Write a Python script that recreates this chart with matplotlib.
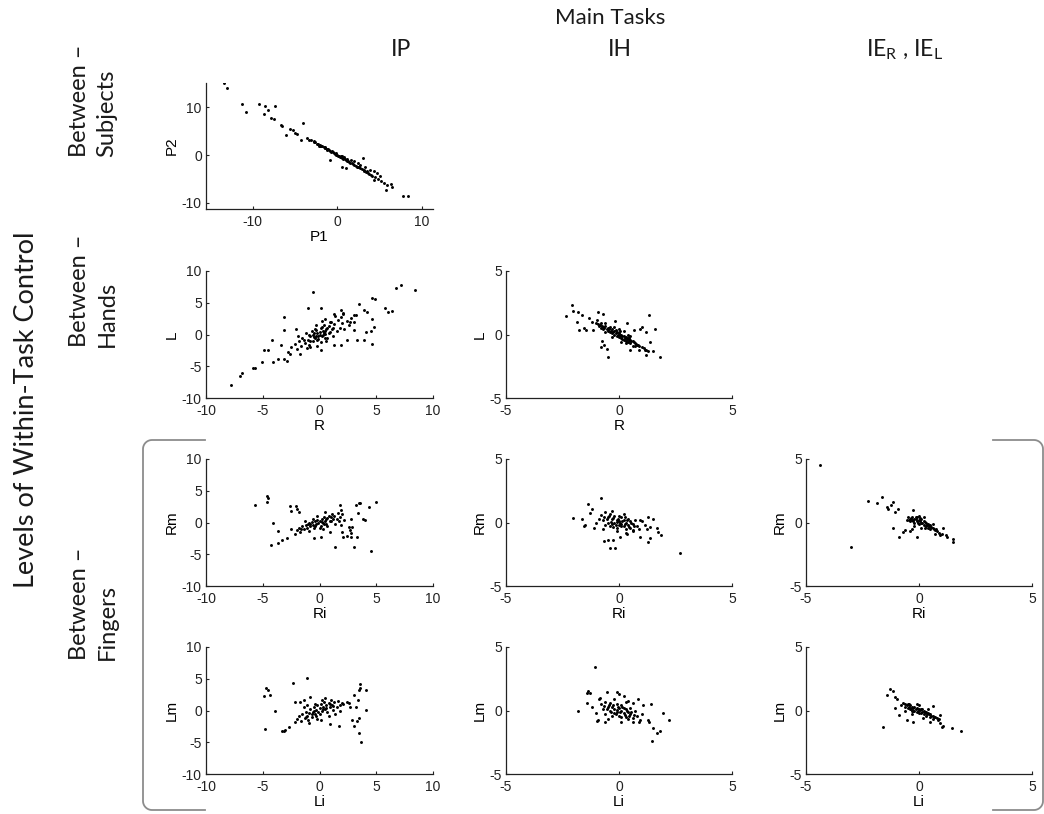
import numpy as np
import matplotlib
matplotlib.use("Agg")
import matplotlib.pyplot as plt
from matplotlib.lines import Line2D

W, H = 1044, 814

# ---- data (x, y) pairs, one list per panel ----
ip_subjects = [
    (-13.4, 15.0), (-13.0, 14.1), (-11.2, 10.6), (-10.8, 9.0), (-9.3, 10.6), (-8.5, 10.3),
    (-8.2, 9.4), (-8.7, 8.5), (-7.4, 10.3), (-7.8, 7.8), (-7.5, 7.6), (-6.6, 6.4), (-6.5, 6.0),
    (-6.0, 4.3), (-5.6, 5.5), (-5.2, 5.3), (-5.0, 4.6), (-4.7, 4.5), (-4.1, 6.7), (-4.3, 3.2),
    (-3.6, 3.6), (-3.3, 3.2), (-3.1, 3.2), (-2.7, 2.9), (-2.4, 2.4), (-1.8, 1.8), (-1.5, 1.5),
    (-1.2, 1.1), (-0.9, -1.0), (-0.6, 0.8), (-0.2, 0.4), (0.0, 0.1), (0.4, -0.3), (0.8, -0.4),
    (1.0, -2.7), (0.6, -2.5), (1.2, -0.8), (1.6, -1.0), (2.0, -1.3), (2.4, -1.7), (3.0, -0.6),
    (2.7, -2.0), (3.3, -2.4), (3.9, -3.1), (4.3, -3.4), (4.7, -3.8), (4.3, -5.2), (5.1, -4.3),
    (5.9, -6.2), (6.4, -6.0), (6.5, -6.6), (5.8, -7.3), (7.8, -8.5), (8.4, -8.5),
    (-2.8, 2.8), (-2.6, 2.7), (-2.3, 2.3), (-2.1, 2.1), (-1.9, 2.0), (-1.6, 1.6), (-1.4, 1.5),
    (-1.2, 1.2), (-1.0, 1.0), (-0.7, 0.7), (-0.5, 0.6), (-0.3, 0.2), (-0.1, 0.1), (0.2, -0.2),
    (0.4, -0.5), (0.6, -0.6), (0.9, -0.9), (1.1, -1.2), (1.3, -1.3), (1.5, -1.6), (1.8, -1.8),
    (2.0, -2.1), (2.2, -2.2), (2.5, -2.6), (2.7, -2.8), (2.9, -2.9), (3.1, -3.3), (3.4, -3.5),
    (3.6, -3.8), (3.8, -4.0), (4.1, -4.3), (4.5, -4.6), (4.8, -5.1), (5.2, -5.4), (5.5, -5.9),
    (-2.0, 1.9), (-0.9, 0.8), (0.3, -0.4), (1.4, -1.4), (2.6, -2.5), (3.2, -3.2), (0.7, -0.8),
    (-1.5, 1.6), (-0.4, 0.5), (0.1, -0.1), (0.5, -0.3), (1.0, -1.1), (1.7, -1.6), (2.3, -2.4),
    (3.5, -3.3), (4.0, -4.1), (-2.2, 2.0), (-1.1, 1.3),
]

ip_hands = [
    (-7.8, -7.9), (-7.0, -6.5), (-6.8, -6.1), (-5.9, -5.2), (-5.7, -5.2), (-5.1, -4.3),
    (-4.9, -2.5), (-4.5, -2.5), (-4.2, -0.8), (-4.1, -4.3), (-3.7, -3.8), (-3.1, 2.8),
    (-3.1, 0.7), (-3.4, -1.7), (-2.6, -3.0), (-2.1, 0.8), (-1.0, 4.1), (-0.6, 6.7), (0.1, 4.1),
    (0.5, 2.5), (1.3, 3.3), (1.9, 3.9), (2.1, 3.3), (3.5, 4.8), (3.0, 3.1), (2.7, 2.0),
    (3.0, 0.7), (3.3, -0.9), (3.9, 3.9), (4.2, 3.6), (4.6, 5.8), (4.9, 5.6), (4.6, 2.5),
    (4.8, 1.2), (4.5, 0.5), (4.1, 0.4), (3.9, -0.9), (4.6, -1.5), (5.8, 4.2), (6.0, 3.5),
    (6.4, 3.7), (6.7, 7.4), (7.2, 7.8), (8.4, 7.0), (1.9, -1.6), (1.3, -1.7), (2.4, -0.9),
    (0.1, -2.4), (-0.8, -2.0), (-1.7, -3.0), (-2.9, -4.1), (-3.1, -3.8),
    (-2.5, -2.0), (-2.2, -1.5), (-2.0, -2.3), (-1.8, -1.0), (-1.6, -1.8), (-1.5, -0.5),
    (-1.3, -1.3), (-1.2, 0.2), (-1.0, -0.8), (-0.9, -1.6), (-0.8, -0.3), (-0.7, 0.5),
    (-0.6, -1.1), (-0.5, -0.4), (-0.4, 0.8), (-0.3, -0.2), (-0.2, 0.3), (-0.1, -0.7),
    (0.0, 0.4), (0.1, 1.0), (0.2, -0.3), (0.3, 0.6), (0.4, 1.5), (0.5, 0.1), (0.6, 0.9),
    (0.7, -0.5), (0.8, 1.3), (0.9, 0.4), (1.0, 2.0), (1.1, 0.8), (1.2, -0.2), (1.3, 1.6),
    (1.5, 0.6), (1.6, 2.3), (1.8, 1.1), (2.0, 1.8), (2.2, 0.9), (2.4, 2.2), (2.6, 1.5),
    (2.8, 2.6), (3.0, 1.9), (3.2, 3.0), (-0.3, 1.5), (0.2, 2.1), (-0.6, 0.0), (0.1, -1.2),
    (-1.1, -2.2), (-2.8, -2.8), (0.6, -1.0), (1.4, 2.9), (-1.9, -0.3), (2.1, 3.4),
    (-0.2, -1.8), (0.5, 0.5), (-0.4, -0.6), (0.0, 0.0), (0.3, -0.1), (-0.8, -1.0), (0.9, 1.9),
    (1.9, 2.8), (-0.5, 0.2), (-0.3, 0.7), (0.2, 1.2), (0.4, 0.3), (0.7, 1.1), (-0.9, 0.0),
    (-0.1, -0.3), (0.5, -0.6), (1.2, 1.0), (-1.4, -0.9), (-0.2, -0.9), (0.8, 0.2),
]

ih_hands = [
    (-2.34, 1.47), (-2.09, 2.36), (-2.04, 1.86), (-1.82, 1.78), (-1.87, 1.0), (-1.79, 0.34),
    (-1.65, 1.52), (-1.57, 0.55), (-1.46, 0.34), (-1.31, 1.26), (-1.21, 1.0), (-1.13, 0.34),
    (-0.91, 1.78), (-0.72, 1.65), (-0.99, 1.18), (-0.81, -0.97), (-0.76, -0.5), (-0.66, -0.79),
    (-0.54, -1.15), (-0.47, -1.78), (-0.18, 1.08), (0.34, 0.87), (0.66, 0.34), (0.93, 0.47),
    (1.0, 0.6), (1.18, 0.21), (1.34, 1.57), (1.37, -0.58), (1.59, 0.42), (1.51, -1.31),
    (1.18, -1.63), (1.81, -1.76), (1.15, -1.23), (0.49, -1.23),
    (-1.0, 0.9), (-0.9, 0.7), (-0.8, 0.9), (-0.7, 0.6), (-0.7, 0.4), (-0.6, 0.7), (-0.5, 0.5),
    (-0.5, 0.3), (-0.4, 0.6), (-0.4, 0.2), (-0.3, 0.4), (-0.3, 0.1), (-0.2, 0.3), (-0.2, 0.0),
    (-0.1, 0.2), (-0.1, -0.1), (0.0, 0.1), (0.0, -0.2), (0.1, 0.0), (0.1, -0.3), (0.2, -0.1),
    (0.2, -0.4), (0.3, -0.2), (0.3, -0.5), (0.4, -0.3), (0.4, -0.6), (0.5, -0.4), (0.5, -0.7),
    (0.6, -0.5), (0.7, -0.7), (0.7, -0.9), (0.8, -0.8), (0.9, -0.9), (1.0, -1.0), (1.1, -1.1),
    (1.2, -1.2), (1.3, -1.3), (-0.6, 0.2), (0.0, 0.4), (0.2, 0.3), (0.5, -0.1), (-0.3, -0.2),
    (0.6, -0.9), (0.9, -1.2), (-0.8, 0.5), (0.1, -0.6), (0.4, 0.0), (-0.2, 0.6),
    (-0.95, 0.8), (-0.85, 0.75), (-0.75, 0.7), (-0.65, 0.55), (-0.55, 0.45), (-0.45, 0.4),
    (-0.35, 0.3), (-0.25, 0.2), (-0.15, 0.15), (-0.05, 0.0), (0.05, -0.05), (0.15, -0.15),
    (0.25, -0.3), (0.35, -0.35), (0.45, -0.45), (0.55, -0.55), (0.65, -0.6), (0.75, -0.75),
    (0.85, -0.85), (-0.45, 0.55), (-0.15, 0.35), (0.15, -0.35), (0.45, -0.25), (-0.6, 0.9),
    (0.3, -0.7), (0.05, 0.25),
]

ip_fingers_r = [
    (-5.7, 2.7), (-4.6, 4.2), (-4.5, 3.8), (-4.6, 3.3), (-4.1, 0.0), (-4.3, -3.6), (-3.7, -1.3),
    (-3.7, -3.3), (-3.3, -2.7), (-2.9, -2.4), (-2.6, 2.6), (-2.5, 1.8), (-2.1, 2.6), (-2.0, 2.1),
    (-1.8, 1.7), (-0.5, -2.5), (0.1, -2.3), (0.9, -1.5), (1.4, -3.8), (1.8, 2.7), (2.0, -1.5),
    (2.1, -2.3), (2.4, -2.2), (2.7, -1.2), (2.8, 0.6), (2.9, -0.7), (2.8, -2.3), (3.0, -3.9),
    (3.2, 2.7), (3.5, 3.0), (3.6, 3.0), (3.4, 1.5), (3.3, -2.3), (3.8, 0.5), (4.0, 0.4),
    (4.4, 2.5), (4.5, -4.5), (5.0, 3.3), (2.6, -0.7), (2.8, -1.7), (1.9, -0.4),
    (-2.2, -1.8), (-2.0, -1.2), (-1.8, -0.8), (-1.7, -1.5), (-1.5, -0.6), (-1.4, -1.1),
    (-1.2, -0.4), (-1.1, -0.9), (-1.0, -0.2), (-0.9, -1.3), (-0.8, -0.6), (-0.7, 0.1),
    (-0.6, -0.4), (-0.5, -0.9), (-0.4, 0.2), (-0.3, -0.3), (-0.2, 0.4), (-0.1, -0.1),
    (0.0, 0.3), (0.1, -0.5), (0.2, 0.6), (0.3, 0.0), (0.4, 0.9), (0.5, 0.3), (0.6, -0.2),
    (0.7, 0.7), (0.8, 1.1), (0.9, 0.2), (1.0, 0.8), (1.1, 1.4), (1.2, 0.5), (1.3, 1.0),
    (1.5, 0.6), (1.6, 1.5), (1.8, 0.9), (2.0, 1.3), (2.2, 0.4), (-0.2, 1.0), (0.3, -1.0),
    (-1.3, 0.2), (0.7, -0.6), (1.4, -0.3), (-0.6, 0.6), (0.0, -0.8), (0.5, 1.6), (-0.9, -0.1),
    (1.9, 2.0), (-2.5, -1.0), (-0.4, -0.5), (0.2, 0.1), (0.6, 0.5), (-0.8, -0.2), (1.0, 0.3),
    (-1.6, -1.0), (0.4, -0.3), (1.7, 0.2),
]

ih_fingers_r = [
    (-2.04, 0.37), (-1.62, 0.24), (-1.57, -0.26), (-1.5, -0.16), (-1.38, 1.45), (-1.28, 0.71),
    (-1.21, 1.1), (-1.1, -0.42), (-0.81, 1.89), (-0.66, -1.45), (-0.47, -1.34), (-0.40, -1.97),
    (-0.25, -1.39), (-0.18, -1.97), (0.04, -1.13), (0.34, -0.87), (0.60, -0.66), (0.93, -1.13),
    (1.15, -0.21), (1.22, -0.55), (1.29, 0.45), (1.37, -1.21), (1.29, -1.53), (1.37, -0.34),
    (1.51, 0.24), (1.66, -0.47), (1.74, -0.74), (1.88, -1.0), (2.72, -2.37), (0.93, 0.18),
    (-0.8, 0.6), (-0.7, 0.2), (-0.6, 0.8), (-0.6, -0.2), (-0.5, 0.4), (-0.5, 0.0), (-0.4, 0.7),
    (-0.4, -0.3), (-0.3, 0.3), (-0.3, -0.1), (-0.2, 0.5), (-0.2, 0.0), (-0.1, 0.2), (-0.1, -0.4),
    (0.0, 0.1), (0.0, -0.2), (0.1, 0.4), (0.1, -0.1), (0.2, 0.2), (0.2, -0.3), (0.3, 0.0),
    (0.3, -0.5), (0.4, 0.3), (0.4, -0.2), (0.5, -0.4), (0.5, 0.1), (0.6, -0.1), (0.6, -0.6),
    (0.7, 0.2), (0.8, -0.3), (-0.9, 0.3), (-0.3, 0.9), (0.2, 0.7), (0.9, -0.5), (-0.7, -0.5),
    (0.3, -0.8), (1.0, 0.1), (-1.0, 0.0), (0.0, 0.5), (-0.1, -0.7),
    (-0.55, 0.25), (-0.45, 0.55), (-0.35, 0.05), (-0.25, 0.35), (-0.15, -0.2), (-0.05, 0.3),
    (0.05, -0.05), (0.15, 0.15), (0.25, -0.1), (0.35, 0.2), (0.45, -0.35), (0.55, 0.0),
    (-0.25, -0.35), (0.25, 0.45), (-0.65, 0.45), (0.65, -0.3), (-0.1, 0.05), (0.1, -0.25),
]

ie_fingers_r = [
    (-4.38, 4.53), (-3.02, -1.92), (-2.24, 1.71), (-1.84, 1.5), (-1.65, 1.97), (-1.43, 1.24),
    (-1.36, 1.03), (-1.25, 1.37), (-1.14, 1.63), (-1.06, 0.84), (-1.14, -0.42), (-0.91, 1.1),
    (-0.87, -1.13), (-0.72, -0.74), (-0.55, 0.18), (-0.28, 0.97), (-0.10, -1.13), (1.08, -0.42),
    (0.71, -0.87), (1.49, -1.26), (1.52, -1.53), (1.22, -1.13), (0.93, -1.0),
    (-0.5, 0.4), (-0.4, 0.3), (-0.4, 0.1), (-0.3, 0.4), (-0.3, 0.2), (-0.2, 0.3), (-0.2, 0.0),
    (-0.1, 0.4), (-0.1, 0.1), (0.0, 0.2), (0.0, -0.1), (0.1, 0.3), (0.1, 0.0), (0.2, 0.1),
    (0.2, -0.2), (0.3, 0.0), (0.3, -0.3), (0.4, -0.1), (0.4, -0.4), (0.5, -0.2), (0.5, -0.5),
    (0.6, -0.4), (0.7, -0.6), (0.8, -0.7), (0.9, -0.8), (1.0, -0.9), (1.2, -1.0), (-0.3, -0.5),
    (-0.4, -0.7), (0.0, 0.5), (0.2, 0.4), (-0.6, -0.6), (-0.2, -0.3), (0.6, -0.1), (0.1, -0.4),
    (-0.45, 0.2), (-0.35, 0.35), (-0.25, 0.1), (-0.15, 0.25), (-0.05, 0.0), (0.05, 0.15),
    (0.15, -0.05), (0.25, 0.05), (0.35, -0.2), (0.45, -0.25), (0.55, -0.35), (0.65, -0.5),
    (-0.15, 0.45), (0.05, 0.35), (0.25, -0.4), (0.75, -0.55),
]

ip_fingers_l = [
    (-4.8, -2.9), (-4.9, 2.35), (-4.7, 3.6), (-4.5, 3.2), (-4.4, 2.45), (-3.9, -0.15),
    (-3.3, -3.3), (-3.1, -3.2), (-3.0, -3.0), (-2.7, -2.6), (-2.35, 4.4), (-2.2, 1.4),
    (-1.7, 1.4), (-1.4, 1.7), (-1.1, 5.1), (-0.8, 2.1), (0.1, -1.5), (0.9, -2.1), (1.7, -2.4),
    (1.85, 0.0), (2.45, 1.4), (2.7, 0.5), (2.9, -1.5), (3.0, -2.5), (3.0, 2.45), (3.2, 0.5),
    (3.3, -1.6), (3.4, 1.7), (3.5, 3.2), (3.6, 3.5), (3.6, 4.1), (3.5, -3.55), (3.7, -5.0),
    (4.1, 0.1), (4.1, 3.2), (2.6, 1.2), (2.1, 1.0), (3.5, -1.2),
    (-2.2, -1.8), (-2.0, -1.3), (-1.8, -0.9), (-1.6, -1.6), (-1.5, -0.5), (-1.3, -1.2),
    (-1.2, -0.2), (-1.1, -0.8), (-1.0, -1.5), (-0.9, -0.4), (-0.8, 0.2), (-0.7, -1.0),
    (-0.6, -0.2), (-0.5, 0.5), (-0.4, -0.6), (-0.3, 0.1), (-0.2, 0.8), (-0.1, -0.3),
    (0.0, 0.4), (0.1, 1.1), (0.2, -0.1), (0.3, 0.6), (0.4, 1.4), (0.5, 0.2), (0.6, 0.9),
    (0.7, -0.3), (0.8, 1.2), (0.9, 0.5), (1.0, 1.7), (1.1, 0.8), (1.2, 0.1), (1.3, 1.3),
    (1.5, 0.6), (1.6, 1.5), (1.8, 0.9), (2.0, 1.2), (-0.9, -2.0), (0.2, 1.7), (-0.4, 1.0),
    (0.8, -0.8), (-1.4, 0.5), (1.4, -0.5), (-0.2, -1.3), (0.5, 1.9), (-1.1, 0.8), (0.0, -0.6),
    (-0.7, -0.6), (-0.3, -0.9), (0.3, 0.2), (0.6, 0.4), (-1.2, -1.0), (0.9, 1.0), (1.2, 0.7),
    (-0.5, -0.1),
]

ih_fingers_l = [
    (-1.82, 0.0), (-1.35, 1.55), (-1.4, 1.37), (-1.28, 1.37), (-1.06, 3.39), (-1.43, 0.58),
    (-1.21, 0.31), (-0.99, -0.81), (-0.91, -0.73), (-0.84, 0.97), (-0.54, 1.42), (-0.10, 1.42),
    (0.01, 1.31), (0.22, 1.15), (0.41, 0.71), (0.85, 0.89), (1.07, 0.45), (1.29, -0.73),
    (1.34, -0.94), (1.4, 0.52), (1.44, -2.44), (1.51, -1.39), (1.66, -1.78), (1.81, -1.65),
    (1.96, -0.21), (2.22, -0.73), (0.93, -0.73), (0.63, -0.87),
    (-0.8, 0.5), (-0.7, 0.1), (-0.6, 0.7), (-0.6, -0.3), (-0.5, 0.3), (-0.4, 0.0), (-0.4, 0.6),
    (-0.3, -0.4), (-0.3, 0.3), (-0.2, 0.1), (-0.2, -0.2), (-0.1, 0.5), (-0.1, -0.1), (0.0, 0.2),
    (0.0, -0.4), (0.1, 0.0), (0.1, 0.4), (0.2, -0.2), (0.2, 0.2), (0.3, -0.5), (0.3, 0.1),
    (0.4, -0.1), (0.4, -0.7), (0.5, 0.2), (0.5, -0.3), (0.6, -0.6), (0.7, 0.0), (0.8, -0.4),
    (-0.9, 0.9), (-0.5, -0.7), (0.1, -0.9), (0.6, 0.6), (-0.2, 0.9), (0.9, -0.9), (-1.0, -0.2),
    (0.3, 0.7), (-0.6, -0.9), (1.0, -0.3),
    (-0.55, 0.1), (-0.45, 0.45), (-0.35, -0.1), (-0.25, 0.4), (-0.15, -0.3), (-0.05, 0.3),
    (0.05, -0.15), (0.15, 0.25), (0.25, -0.35), (0.35, 0.0), (0.45, -0.45), (0.55, -0.1),
    (-0.65, 0.35), (0.65, -0.35), (-0.1, 0.05), (0.1, -0.55),
]

ie_fingers_l = [
    (-1.61, -1.31), (-1.43, 1.23), (-1.28, 1.68), (-1.14, 1.55), (-1.06, 1.05), (-0.99, 0.89),
    (-1.06, 0.18), (-0.87, -0.39), (-0.55, -0.73), (-0.28, -0.94), (0.19, -0.60), (0.49, -0.87),
    (0.63, 0.37), (0.86, -0.73), (0.93, -1.0), (1.0, -1.31), (1.05, -1.21), (1.45, -1.39),
    (1.84, -1.6), (0.93, -0.34),
    (-0.7, 0.6), (-0.6, 0.5), (-0.6, 0.3), (-0.5, 0.5), (-0.5, 0.2), (-0.4, 0.4), (-0.4, 0.1),
    (-0.3, 0.3), (-0.3, 0.0), (-0.2, 0.3), (-0.2, 0.0), (-0.1, 0.2), (-0.1, -0.1), (0.0, 0.1),
    (0.0, -0.2), (0.1, 0.1), (0.1, -0.2), (0.2, 0.0), (0.2, -0.3), (0.3, -0.1), (0.3, -0.4),
    (0.4, -0.2), (0.5, -0.3), (0.5, -0.5), (0.6, -0.4), (0.7, -0.5), (0.8, -0.6), (-0.8, 0.4),
    (-0.3, -0.3), (0.0, 0.4), (0.4, 0.1), (-0.6, 0.0), (0.6, -0.7), (0.9, -0.7), (-0.1, 0.5),
    (-0.55, 0.4), (-0.45, 0.3), (-0.35, 0.15), (-0.25, 0.2), (-0.15, 0.1), (-0.05, 0.0),
    (0.05, 0.05), (0.15, -0.1), (0.25, -0.15), (0.35, -0.25), (0.45, -0.3), (0.55, -0.4),
    (-0.45, 0.55), (0.15, 0.15), (0.65, -0.55), (-0.25, -0.05),
]

col_titles = ["IP", "IH", r"IE$_\mathregular{R}$ , IE$_\mathregular{L}$"]
row_titles = ["Between \u2013\nSubjects", "Between \u2013\nHands", "Between \u2013\nFingers"]

plt.rcParams["font.family"] = ["Liberation Sans", "DejaVu Sans"]
plt.rcParams["mathtext.fontset"] = "custom"
plt.rcParams["mathtext.rm"] = "Lato"
plt.rcParams["axes.unicode_minus"] = False

fig = plt.figure(figsize=(W / 100, H / 100), dpi=100)


def px_axes(left, top, right, bottom):
    return fig.add_axes([left / W, 1 - bottom / H, (right - left) / W, (bottom - top) / H])


col_x = [(206, 433), (506, 732), (806, 1032)]
row_y = [(83, 209), (271, 398), (459, 586), (647, 774)]

panels = [
    # row, col, points, xlabel, ylabel, xlim, ylim, ticks
    (0, 0, ip_subjects, "P1", "P2", (-15.5, 11.3), (-11.3, 15.1), [-10, 0, 10]),
    (1, 0, ip_hands, "R", "L", (-10, 10), (-10, 10), [-10, -5, 0, 5, 10]),
    (1, 1, ih_hands, "R", "L", (-5, 5), (-5, 5), [-5, 0, 5]),
    (2, 0, ip_fingers_r, "Ri", "Rm", (-10, 10), (-10, 10), [-10, -5, 0, 5, 10]),
    (2, 1, ih_fingers_r, "Ri", "Rm", (-5, 5), (-5, 5), [-5, 0, 5]),
    (2, 2, ie_fingers_r, "Ri", "Rm", (-5, 5), (-5, 5), [-5, 0, 5]),
    (3, 0, ip_fingers_l, "Li", "Lm", (-10, 10), (-10, 10), [-10, -5, 0, 5, 10]),
    (3, 1, ih_fingers_l, "Li", "Lm", (-5, 5), (-5, 5), [-5, 0, 5]),
    (3, 2, ie_fingers_l, "Li", "Lm", (-5, 5), (-5, 5), [-5, 0, 5]),
]

for r, c, pts, xl, yl, xlim, ylim, ticks in panels:
    ax = px_axes(col_x[c][0], row_y[r][0], col_x[c][1], row_y[r][1])
    xy = np.array(pts)
    ax.scatter(xy[:, 0], xy[:, 1], s=4.5, marker="o", color="black", linewidths=0)
    ax.set_xlim(xlim)
    ax.set_ylim(ylim)
    ax.set_xticks(ticks)
    ax.set_yticks(ticks)
    for s in ["top", "right"]:
        ax.spines[s].set_visible(False)
    for s in ["left", "bottom"]:
        ax.spines[s].set_linewidth(0.9)
        ax.spines[s].set_color("#222222")
    ax.tick_params(direction="in", length=2.5, width=0.8, labelsize=10, colors="#222222")
    ax.tick_params(axis="x", pad=4)
    ax.tick_params(axis="y", pad=3)
    ax.set_xlabel(xl, fontsize=11, labelpad=1)
    ax.set_ylabel(yl, fontsize=11, labelpad=2)

# headers
hdr = dict(family=["Lato", "DejaVu Sans"], color="#1a1a1a")
fig.text(610 / W, 1 - 18 / H, "Main Tasks", ha="center", va="center", fontsize=16, **hdr)
for x, t in zip([401, 620, 905], col_titles):
    fig.text(x / W, 1 - 50 / H, t, ha="center", va="center", fontsize=16.5, **hdr)

fig.text(27 / W, 1 - 410 / H, "Levels of Within-Task Control", rotation=90,
         ha="center", va="center", fontsize=19.5, **hdr)
for y, t in zip([157, 347, 660], row_titles):
    fig.text(93 / W, 1 - y / H, t, rotation=90, ha="center", va="bottom", ma="left",
             fontsize=17, linespacing=1.4, **hdr)


# brackets around the between-fingers rows
def bracket(xs_open, x_edge, y_top, y_bot, rad=9):
    sgn = 1 if xs_open > x_edge else -1
    a = np.linspace(0, np.pi / 2, 12)
    top_x = list(x_edge + sgn * rad * (1 - np.cos(a)))[::-1]
    top_y = list(y_top + rad * (1 - np.sin(a)))[::-1]
    xs = [xs_open] + top_x + top_x[::-1]
    ys = [y_top] + top_y + [y_bot - (v - y_top) for v in top_y[::-1]]
    xs = xs + [xs_open]
    ys = ys + [y_bot]
    fig.add_artist(Line2D([v / W for v in xs], [1 - v / H for v in ys],
                          transform=fig.transFigure, color="#8c8c8c", lw=1.3))


bracket(205, 143, 440, 810)
bracket(993, 1043, 440, 810)

fig.savefig("out.png", dpi=100)
